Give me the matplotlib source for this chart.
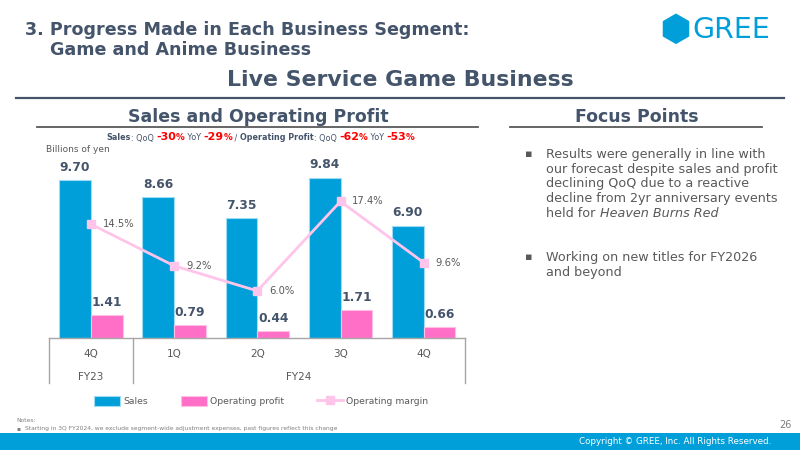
import matplotlib
matplotlib.use("Agg")
import matplotlib.pyplot as plt
from matplotlib.patches import Rectangle, RegularPolygon
from matplotlib.lines import Line2D
import numpy as np

# ---------------- data ----------------
quarters = ["4Q", "1Q", "2Q", "3Q", "4Q"]
fiscal_years = ["FY23", "FY24"]
fy_span = [1, 4]                      # number of quarters per fiscal year
sales = [9.70, 8.66, 7.35, 9.84, 6.90]
op_profit = [1.41, 0.79, 0.44, 1.71, 0.66]
op_margin = [14.5, 9.2, 6.0, 17.4, 9.6]
legend_labels = ["Sales", "Operating profit", "Operating margin"]

subtitle_parts = [("Sales", "b"), (": QoQ ", "n"), ("-30", "r"), ("%", "rp"), (" YoY ", "n"),
                  ("-29", "r"), ("%", "rp"), (" / ", "n"), ("Operating Profit", "b"),
                  (": QoQ ", "n"), ("-62", "r"), ("%", "rp"), (" YoY ", "n"), ("-53", "r"), ("%", "rp")]

focus_points = [
    [[("Results were generally in line with", "normal")],
     [("our forecast despite sales and profit", "normal")],
     [("declining QoQ due to a reactive", "normal")],
     [("decline from 2yr anniversary events", "normal")],
     [("held for ", "normal"), ("Heaven Burns Red", "italic")]],
    [[("Working on new titles for FY2026", "normal")],
     [("and beyond", "normal")]],
]

# ---------------- style ----------------
W, H = 800, 450
DARK = "#44546A"
GREY = "#595959"
BLUE = "#009FDA"
PINK = "#FF6EC7"
LPINK = "#FFC4EA"
RED = "#FF0000"
LINEC = "#A6A6A6"

plt.rcParams["font.family"] = ["DejaVu Sans"]
fig = plt.figure(figsize=(8, 4.5), dpi=100)
renderer = fig.canvas.get_renderer()


def px(x, y):
    return x / W, 1 - y / H


def ftext(x, y, s, **kw):
    return fig.text(*px(x, y), s, **kw)


# ---------------- header ----------------
ftext(25, 30, "3. Progress Made in Each Business Segment:", fontsize=12.6, fontweight="bold",
      color=DARK, va="center", ha="left")
ftext(50, 50, "Game and Anime Business", fontsize=12.6, fontweight="bold",
      color=DARK, va="center", ha="left")
ftext(400, 80, "Live Service Game Business", fontsize=15.8, fontweight="bold",
      color=DARK, va="center", ha="center")
fig.add_artist(Line2D([16 / W, 784 / W], [1 - 97.5 / H] * 2, color=DARK, lw=1.6))

# logo
hx, hy = px(676, 28.8)
fig.add_artist(RegularPolygon((hx * W, (hy) * H), numVertices=6, radius=14.5,
                              orientation=0, color=BLUE, transform=None))
ftext(692, 29.5, "GREE", fontsize=20.5, color=BLUE, va="center", ha="left")

# section headers
ftext(258, 117, "Sales and Operating Profit", fontsize=12.5, fontweight="bold",
      color=DARK, va="center", ha="center")
fig.add_artist(Line2D([37 / W, 478 / W], [1 - 126.5 / H] * 2, color=GREY, lw=1.3))
ftext(637, 117, "Focus Points", fontsize=12.5, fontweight="bold",
      color=DARK, va="center", ha="center")
fig.add_artist(Line2D([510 / W, 762 / W], [1 - 126.5 / H] * 2, color=GREY, lw=1.3))

# subtitle with mixed styles
styles = {"b": dict(fontsize=5.8, fontweight="bold", color=DARK),
          "n": dict(fontsize=5.8, color=DARK),
          "r": dict(fontsize=7.9, fontweight="bold", color=RED),
          "rp": dict(fontsize=6.3, fontweight="bold", color=RED)}
texts = []
for s, st in subtitle_parts:
    t = fig.text(0, 1 - 140.5 / H, s, va="baseline", ha="left", **styles[st])
    texts.append(t)
widths = [t.get_window_extent(renderer).width for t in texts]
total = sum(widths)
xcur = 260.5 - total / 2
for t, w in zip(texts, widths):
    t.set_x(xcur / W)
    xcur += w

ftext(46, 150, "Billions of yen", fontsize=6.5, color=GREY, va="center", ha="left")

# focus points
ycur = 154.5
for bullet in focus_points:
    ftext(525, ycur, "\u25aa", fontsize=8, color=GREY, va="center", ha="left")
    for line in bullet:
        xc = 546.5
        for s, style in line:
            t = ftext(xc, ycur, s, fontsize=9.2, color=GREY, va="center", ha="left", style=style)
            xc += t.get_window_extent(renderer).width
        ycur += 14.7
    ycur += 14.7 * 2.0

# notes / footer
ftext(16, 421, "Notes:", fontsize=4.3, color="#7F7F7F", va="center", ha="left")
ftext(16, 428.5, "\u25aa", fontsize=4.3, color="#7F7F7F", va="center", ha="left")
ftext(25, 428.5, "Starting in 3Q FY2024, we exclude segment-wide adjustment expenses, past figures reflect this change",
      fontsize=4.3, color="#7F7F7F", va="center", ha="left")
ftext(792, 425, "26", fontsize=7, color="#7F7F7F", va="center", ha="right")
fig.add_artist(Rectangle((0, 0), 1, (450 - 433) / H, transform=fig.transFigure,
                         color=BLUE, lw=0))
ftext(771, 442, "Copyright \u00a9 GREE, Inc. All Rights Reserved.", fontsize=6.3,
      color="white", va="center", ha="right")

# ---------------- chart ----------------
ax_left, ax_right, ax_base, ax_top = 49.3, 465.3, 338, 150
ax = fig.add_axes([ax_left / W, 1 - ax_base / H, (ax_right - ax_left) / W, (ax_base - ax_top) / H])
ax2 = ax.twinx()
ppu1 = 16.3
ppu2 = 7.85
ax.set_ylim(0, (ax_base - ax_top) / ppu1)
ax2.set_ylim(0, (ax_base - ax_top) / ppu2)
ax.set_xlim(-0.5, len(quarters) - 0.5)
for a in (ax, ax2):
    for sp in a.spines.values():
        sp.set_visible(False)
    a.set_xticks([])
    a.set_yticks([])
    a.patch.set_alpha(0)

x = np.arange(len(quarters))
bw = 0.382
b1 = ax.bar(x - bw / 2, sales, bw, color=BLUE, edgecolor="#9EDCF5", lw=0.8, label=legend_labels[0])
b2 = ax.bar(x + bw / 2, op_profit, bw, color=PINK, edgecolor="#FFC0E6", lw=0.8, label=legend_labels[1])
for xi, v in zip(x, sales):
    ax.annotate(f"{v:.2f}", (xi - bw / 2, v), xytext=(0, 4.5), textcoords="offset points",
                ha="center", va="bottom", fontsize=8.8, fontweight="bold", color=DARK)
for xi, v in zip(x, op_profit):
    ax.annotate(f"{v:.2f}", (xi + bw / 2, v), xytext=(0, 4.5), textcoords="offset points",
                ha="center", va="bottom", fontsize=8.8, fontweight="bold", color=DARK)

ln, = ax2.plot(x, op_margin, color=LPINK, lw=2.0, marker="s", ms=6, mfc=LPINK, mec=LPINK,
               label=legend_labels[2], zorder=5)
for xi, v in zip(x, op_margin):
    ax2.annotate(f"{v:.1f}%", (xi, v), xytext=(8.5, 0), textcoords="offset points",
                 ha="left", va="center", fontsize=7.2, color=GREY, zorder=6)

# category table under the axis
ax.axhline(0, color=LINEC, lw=1.0, clip_on=False)
tick_depth = 45 / ppu1
bounds = [-0.5]
for n in fy_span:
    bounds.append(bounds[-1] + n)
for b in bounds:
    ax.plot([b, b], [0, -tick_depth], color=LINEC, lw=1.0, clip_on=False)
for xi, q in zip(x, quarters):
    ax.text(xi, -16.3 / ppu1, q, ha="center", va="center", fontsize=7.5, color=GREY, clip_on=False)
for i, fy in enumerate(fiscal_years):
    ax.text((bounds[i] + bounds[i + 1]) / 2, -38.7 / ppu1, fy, ha="center", va="center",
            fontsize=7.5, color=GREY, clip_on=False)

# legend
fig.legend(handles=[b1, b2, ln], labels=legend_labels, loc="center left",
           bbox_to_anchor=(94 / W, 1 - 401 / H), ncol=3, frameon=False, fontsize=6.7,
           labelcolor=GREY, handlelength=2.8, handleheight=1.3, handletextpad=0.33,
           columnspacing=3.55, borderpad=0, borderaxespad=0)

fig.savefig("out.png", dpi=100)
